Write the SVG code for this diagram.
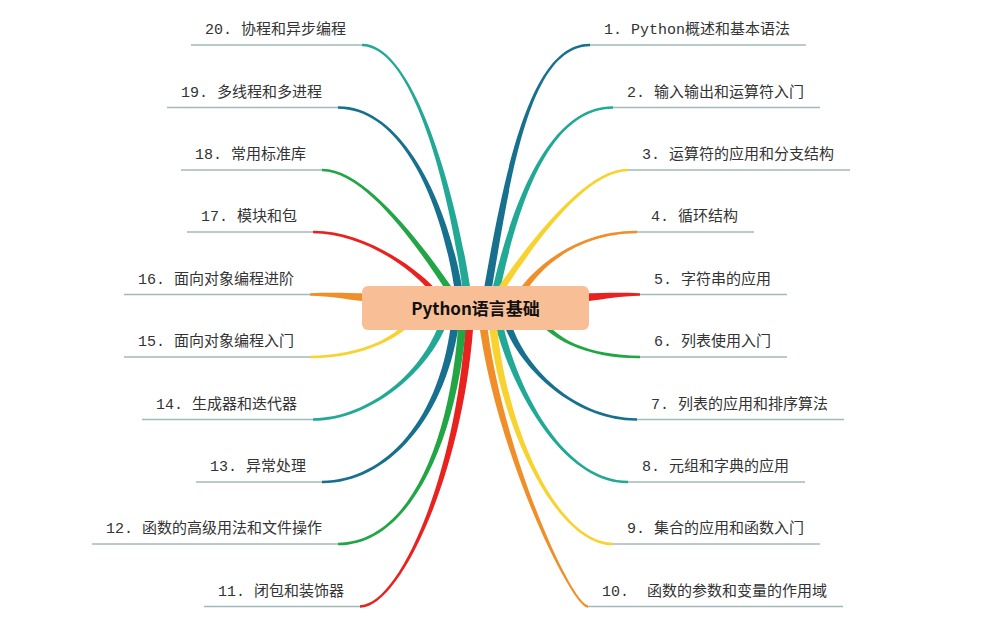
<svg xmlns="http://www.w3.org/2000/svg" width="998" height="626" viewBox="0 0 998 626">
<style>
.t{font-family:"Liberation Mono","Noto Sans CJK SC",monospace;font-size:15px;fill:#333}
.u{stroke:#A3B8BA;stroke-width:1.5;fill:none}
.db{fill:#18708F}.tl{fill:#22A996}.yl{fill:#F8D32F}.or{fill:#F08F2A}.rd{fill:#E8231F}.gn{fill:#22A544}
.root{fill:#F8BF96}
.rt{font-family:"Noto Sans CJK SC","Noto Sans",sans-serif;font-size:17px;font-weight:bold;fill:#111;text-anchor:middle}
</style>
<rect width="998" height="626" fill="#ffffff"/>
<g id="connectors">
<path class="db" d="M490,300 C511.4,170 530,46.8 590,46.3 L590,43.7 C530,43.2 504.6,170 482,300Z"/>
<path class="tl" d="M498,300 C518.4,200 550,109.3 613,108.8 L613,106.2 C550,105.7 511.6,200 490,300Z"/>
<path class="yl" d="M501,295 C533.4,245 585,171.8 628,171.3 L628,168.7 C585,168.2 526.6,245 493,295Z"/>
<path class="or" d="M525,293 C538.4,270 575,233.8 637,233.3 L637,230.7 C575,230.2 531.6,270 517,293Z"/>
<path class="rd" d="M530,306 C580,305.5 600,297 640,295.8 L640,293.2 C600,292 580,294.5 530,294Z"/>
<path class="gn" d="M539,310 C551.4,340 590,355.2 640,355.7 L640,358.3 C590,358.8 544.6,340 531,310Z"/>
<path class="db" d="M509,315 C518.4,360 570,417.7 637,418.2 L637,420.8 C570,421.3 511.6,360 501,315Z"/>
<path class="tl" d="M501,315 C513.4,380 560,480.2 628,480.7 L628,483.3 C560,483.8 506.6,380 493,315Z"/>
<path class="yl" d="M496,315 C503.4,420 555,542.2 613,542.7 L613,545.3 C555,545.8 496.6,420 488,315Z"/>
<path class="or" d="M486,315 C500.4,450 572,604.7 588,605.2 L588,607.8 C572,608.3 493.6,450 478,315Z"/>
<path class="rd" d="M474,315 C465.4,470 400,608.3 360,607.8 L360,605.2 C400,604.7 458.6,470 466,315Z"/>
<path class="gn" d="M467,315 C458.4,440 410,545.8 338,545.3 L338,542.7 C410,542.2 451.6,440 459,315Z"/>
<path class="db" d="M460,315 C448.4,420 385,483.8 322,483.3 L322,480.7 C385,480.2 441.6,420 452,315Z"/>
<path class="tl" d="M450,315 C433.4,370 370,421.3 313,420.8 L313,418.2 C370,417.7 426.6,370 442,315Z"/>
<path class="yl" d="M422,312 C405.4,338 360,358.8 310,358.3 L310,355.7 C360,355.2 398.6,338 414,312Z"/>
<path class="or" d="M420,306 C370,305.5 350,297 310,295.8 L310,293.2 C350,292 370,294.5 420,294Z"/>
<path class="rd" d="M442,296 C415.4,264 360,230.2 313,230.7 L313,233.3 C360,233.8 408.6,264 434,296Z"/>
<path class="gn" d="M457,295 C423.4,245 365,168.2 322,168.7 L322,171.3 C365,171.8 416.6,245 449,295Z"/>
<path class="db" d="M464,300 C451.4,210 405,105.7 338,106.2 L338,108.8 C405,109.3 444.6,210 456,300Z"/>
<path class="tl" d="M472,300 C458.4,200 415,43.2 362,43.7 L362,46.3 C415,46.8 451.6,200 464,300Z"/>
</g>
<g id="root">
<rect class="root" x="362" y="286" width="227" height="44" rx="6"/>
<text class="rt" x="475.5" y="315">Python语言基础</text>
</g>
<g id="n1"><line class="u" x1="590" y1="45" x2="806" y2="45"/><text class="t" x="604" y="34">1. Python概述和基本语法</text></g>
<g id="n2"><line class="u" x1="613" y1="107.5" x2="820" y2="107.5"/><text class="t" x="627" y="96.5">2. 输入输出和运算符入门</text></g>
<g id="n3"><line class="u" x1="628" y1="170" x2="850" y2="170"/><text class="t" x="642" y="159">3. 运算符的应用和分支结构</text></g>
<g id="n4"><line class="u" x1="637" y1="232" x2="754" y2="232"/><text class="t" x="651" y="221">4. 循环结构</text></g>
<g id="n5"><line class="u" x1="640" y1="294.5" x2="787" y2="294.5"/><text class="t" x="654" y="283.5">5. 字符串的应用</text></g>
<g id="n6"><line class="u" x1="640" y1="357" x2="787" y2="357"/><text class="t" x="654" y="346">6. 列表使用入门</text></g>
<g id="n7"><line class="u" x1="637" y1="419.5" x2="844" y2="419.5"/><text class="t" x="651" y="408.5">7. 列表的应用和排序算法</text></g>
<g id="n8"><line class="u" x1="628" y1="482" x2="805" y2="482"/><text class="t" x="642" y="471">8. 元组和字典的应用</text></g>
<g id="n9"><line class="u" x1="613" y1="544" x2="820" y2="544"/><text class="t" x="627" y="533">9. 集合的应用和函数入门</text></g>
<g id="n10"><line class="u" x1="588" y1="606.5" x2="843" y2="606.5"/><text class="t" x="602" y="595.5">10.&#160; 函数的参数和变量的作用域</text></g>
<g id="n11"><line class="u" x1="204" y1="606.5" x2="360" y2="606.5"/><text class="t" x="218" y="595.5">11. 闭包和装饰器</text></g>
<g id="n12"><line class="u" x1="92" y1="544" x2="338" y2="544"/><text class="t" x="106" y="533">12. 函数的高级用法和文件操作</text></g>
<g id="n13"><line class="u" x1="196" y1="482" x2="322" y2="482"/><text class="t" x="210" y="471">13. 异常处理</text></g>
<g id="n14"><line class="u" x1="142" y1="419.5" x2="313" y2="419.5"/><text class="t" x="156" y="408.5">14. 生成器和迭代器</text></g>
<g id="n15"><line class="u" x1="124" y1="357" x2="310" y2="357"/><text class="t" x="138" y="346">15. 面向对象编程入门</text></g>
<g id="n16"><line class="u" x1="124" y1="294.5" x2="310" y2="294.5"/><text class="t" x="138" y="283.5">16. 面向对象编程进阶</text></g>
<g id="n17"><line class="u" x1="187" y1="232" x2="313" y2="232"/><text class="t" x="201" y="221">17. 模块和包</text></g>
<g id="n18"><line class="u" x1="181" y1="170" x2="322" y2="170"/><text class="t" x="195" y="159">18. 常用标准库</text></g>
<g id="n19"><line class="u" x1="167" y1="107.5" x2="338" y2="107.5"/><text class="t" x="181" y="96.5">19. 多线程和多进程</text></g>
<g id="n20"><line class="u" x1="191" y1="45" x2="362" y2="45"/><text class="t" x="205" y="34">20. 协程和异步编程</text></g>
</svg>
